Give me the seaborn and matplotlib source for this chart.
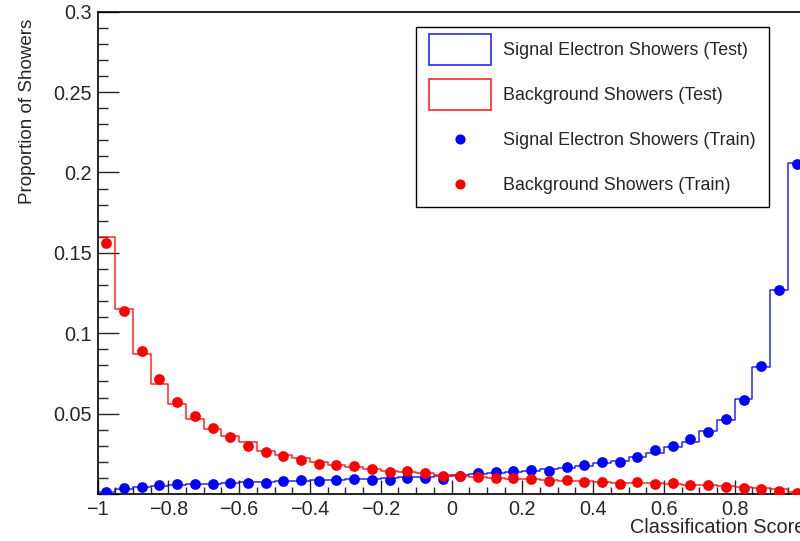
import numpy as np
import pandas as pd
import matplotlib
matplotlib.use("Agg")
import matplotlib.pyplot as plt
from matplotlib.patches import Patch, Rectangle
from matplotlib.lines import Line2D
from matplotlib.legend_handler import HandlerLine2D
from matplotlib.ticker import MultipleLocator, FuncFormatter
import seaborn as sns

# ---------------- data ----------------
bin_edges = [round(-1.0 + 0.05 * i, 3) for i in range(41)]
bin_centers = [round(-0.975 + 0.05 * i, 3) for i in range(40)]

signal_test = [0.0012, 0.0032, 0.0045, 0.0052, 0.0058, 0.0062, 0.0065, 0.0068, 0.0072, 0.0075,
               0.0079, 0.0083, 0.0086, 0.0089, 0.0092, 0.0095, 0.0099, 0.0103, 0.0107, 0.0111,
               0.0116, 0.0122, 0.0128, 0.0136, 0.0144, 0.0154, 0.0163, 0.0172, 0.0191, 0.0208,
               0.0233, 0.0258, 0.0295, 0.0326, 0.0394, 0.0461, 0.0590, 0.0789, 0.1269, 0.2060]
background_test = [0.160, 0.115, 0.0868, 0.0685, 0.0561, 0.0469, 0.0407, 0.0361, 0.0326, 0.0268,
                   0.0241, 0.0222, 0.0196, 0.0178, 0.0170, 0.0158, 0.0145, 0.0138, 0.0130, 0.0120,
                   0.0112, 0.0105, 0.0100, 0.0096, 0.0091, 0.0087, 0.0083, 0.0079, 0.0075, 0.0071,
                   0.0069, 0.0066, 0.0062, 0.0058, 0.0054, 0.0050, 0.0045, 0.0038, 0.0029, 0.0012]
signal_train = [0.0015, 0.0036, 0.0046, 0.0056, 0.0063, 0.0061, 0.0061, 0.0071, 0.0071, 0.0069,
                0.0081, 0.0086, 0.0081, 0.0086, 0.0094, 0.0088, 0.0088, 0.0101, 0.0098, 0.0096,
                0.0112, 0.0131, 0.0137, 0.0141, 0.0150, 0.0146, 0.0167, 0.0179, 0.0200, 0.0200,
                0.0233, 0.0272, 0.0299, 0.0343, 0.0384, 0.0469, 0.0584, 0.0797, 0.1271, 0.2055]
background_train = [0.156, 0.114, 0.089, 0.0714, 0.0575, 0.0482, 0.0411, 0.0357, 0.0299, 0.0260,
                    0.0237, 0.0212, 0.0189, 0.0183, 0.0175, 0.0156, 0.0137, 0.0141, 0.0131, 0.0111,
                    0.0114, 0.0108, 0.0098, 0.0098, 0.0092, 0.0083, 0.0086, 0.0077, 0.0073, 0.0065,
                    0.0073, 0.0065, 0.0069, 0.0054, 0.0056, 0.0042, 0.0040, 0.0029, 0.0021, 0.0008]

labels = ["Signal Electron Showers (Test)", "Background Showers (Test)",
          "Signal Electron Showers (Train)", "Background Showers (Train)"]
x_title = "Classification Score"
y_title = "Proportion of Showers"

# ---------------- style ----------------
sns.set_style("white")
plt.rcParams["font.family"] = ["Liberation Sans", "DejaVu Sans"]
plt.rcParams["axes.unicode_minus"] = True

BLUE = "#0000ff"
RED = "#ff0000"

fig = plt.figure(figsize=(8.0, 5.41), dpi=100)
ax = fig.add_axes([0.1219, 0.0869, 0.885, 0.8915])

df = pd.DataFrame({"x": bin_centers, "sig_test": signal_test, "bkg_test": background_test,
                   "sig_train": signal_train, "bkg_train": background_train})

sns.histplot(data=df, x="x", weights="sig_test", bins=bin_edges, element="step", fill=False,
             color=BLUE, linewidth=1.1, ax=ax, alpha=0.85)
sns.histplot(data=df, x="x", weights="bkg_test", bins=bin_edges, element="step", fill=False,
             color=RED, linewidth=1.1, ax=ax, alpha=0.85)
sns.scatterplot(data=df, x="x", y="sig_train", color=BLUE, s=60, linewidth=0, ax=ax, zorder=5)
sns.scatterplot(data=df, x="x", y="bkg_train", color=RED, s=60, linewidth=0, ax=ax, zorder=5)

ax.set_xlim(-1, 1)
ax.set_ylim(0, 0.3)

# spines
for s in ["left", "bottom", "top", "right"]:
    ax.spines[s].set_visible(True)
    ax.spines[s].set_color("black")
    ax.spines[s].set_linewidth(1.2)

# ticks
ax.xaxis.set_major_locator(MultipleLocator(0.2))
ax.xaxis.set_minor_locator(MultipleLocator(0.05))
ax.yaxis.set_major_locator(MultipleLocator(0.05))
ax.yaxis.set_minor_locator(MultipleLocator(0.01))


def xfmt(v, pos):
    if abs(v) < 1e-9:
        return "0"
    s = f"{v:g}"
    return s.replace("-", "\u2212")


def yfmt(v, pos):
    if abs(v) < 1e-9:
        return ""
    return f"{v:g}"


ax.xaxis.set_major_formatter(FuncFormatter(xfmt))
ax.yaxis.set_major_formatter(FuncFormatter(yfmt))

ax.tick_params(axis="x", which="major", direction="in", length=10, width=1, labelsize=14.3,
               pad=4, top=False, bottom=True)
ax.tick_params(axis="x", which="minor", direction="in", length=5, width=1, top=False, bottom=True)
ax.tick_params(axis="y", which="major", direction="in", length=15, width=1, labelsize=14.3,
               pad=4.3, left=True, right=False)
ax.tick_params(axis="y", which="minor", direction="in", length=7.2, width=1, left=True, right=False)

# titles
ax.set_xlabel(x_title, fontsize=14.3)
ax.xaxis.label.set_horizontalalignment("right")
ax.xaxis.label.set_verticalalignment("center")
ax.xaxis.set_label_coords(1.0, -0.0685)

ax.set_ylabel(y_title, fontsize=13.5)
ax.yaxis.label.set_horizontalalignment("center")
ax.yaxis.label.set_verticalalignment("top")
ax.yaxis.label.set_rotation_mode("default")
ax.yaxis.set_label_coords(-0.0985, 0.985)


# legend
class ShiftedMarkerHandler(HandlerLine2D):
    def create_artists(self, legend, orig_handle, xdescent, ydescent, width, height,
                       fontsize, trans):
        return super().create_artists(legend, orig_handle, xdescent, ydescent + 5.8,
                                      width, height, fontsize, trans)


sig_marker = Line2D([], [], linestyle="none", marker="o", markersize=7.3, color=BLUE,
                    markeredgewidth=0)
bkg_marker = Line2D([], [], linestyle="none", marker="o", markersize=7.3, color=RED,
                    markeredgewidth=0)
handles = [Patch(facecolor="none", edgecolor=BLUE, linewidth=1.2, alpha=0.85),
           Patch(facecolor="none", edgecolor=RED, linewidth=1.2, alpha=0.85),
           sig_marker, bkg_marker]

frame = Rectangle((0.52, 0.6179), 0.4416, 0.3327, transform=fig.transFigure, facecolor="white",
                  edgecolor="black", linewidth=1.0, zorder=10)
fig.add_artist(frame)

leg = fig.legend(handles, labels, loc="upper left", bbox_to_anchor=(0.53625, 0.93715),
                 bbox_transform=fig.transFigure, frameon=False, borderpad=0, borderaxespad=0,
                 fontsize=12.9, handlelength=3.45, handleheight=2.26, labelspacing=0.8,
                 handletextpad=0.68,
                 handler_map={sig_marker: ShiftedMarkerHandler(numpoints=1),
                              bkg_marker: ShiftedMarkerHandler(numpoints=1)})
leg.set_zorder(11)

fig.savefig("out.png", dpi=100)
